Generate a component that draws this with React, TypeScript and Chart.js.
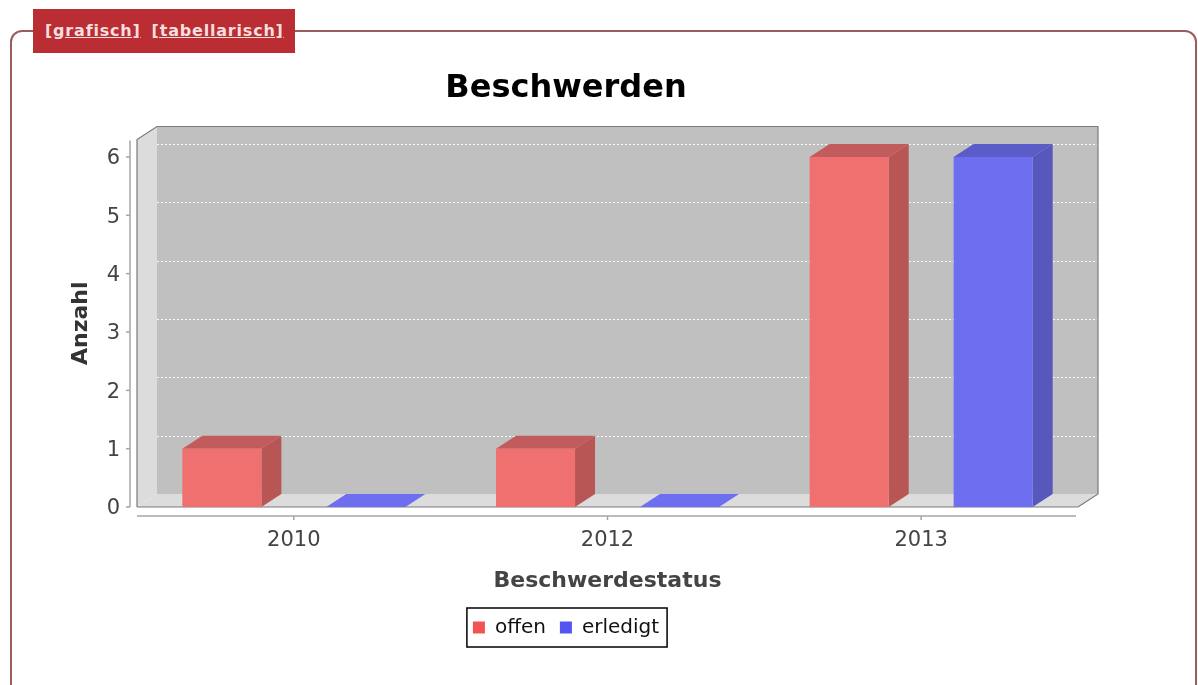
import React, { useEffect, useRef } from "react";
import { Chart, registerables } from "chart.js";

Chart.register(...registerables);

const categories = ["2010", "2012", "2013"];
const seriesNames = ["offen", "erledigt"];
const offenValues = [1, 1, 6];
const erledigtValues = [0, 0, 6];
const yTickValues = [0, 1, 2, 3, 4, 5, 6];

const FONT = "'DejaVu Sans', sans-serif";
const DX = 20;
const DY = 13;

const frontColors = ["#f07070", "#6e6ef0"];
const sideColors = ["#b85656", "#5858bc"];
const topColors = ["#c25c5c", "#5c5cc8"];
const legendColors = ["#f25454", "#5454f2"];

const threeD = {
  id: "threeD",
  beforeDatasetsDraw(chart: any) {
    const { ctx, chartArea: a, scales } = chart;
    const ys = scales.y;
    ctx.save();
    // back wall
    ctx.fillStyle = "#c0c0c0";
    ctx.fillRect(a.left + DX, a.top - DY, a.right - a.left, a.bottom - a.top);
    // left wall
    ctx.fillStyle = "#dcdcdc";
    ctx.beginPath();
    ctx.moveTo(a.left, a.top);
    ctx.lineTo(a.left + DX, a.top - DY);
    ctx.lineTo(a.left + DX, a.bottom - DY);
    ctx.lineTo(a.left, a.bottom);
    ctx.closePath();
    ctx.fill();
    // floor
    ctx.beginPath();
    ctx.moveTo(a.left, a.bottom);
    ctx.lineTo(a.left + DX, a.bottom - DY);
    ctx.lineTo(a.right + DX, a.bottom - DY);
    ctx.lineTo(a.right, a.bottom);
    ctx.closePath();
    ctx.fill();
    // gridlines on back wall
    ctx.strokeStyle = "rgba(255,255,255,0.9)";
    ctx.lineWidth = 1;
    ctx.setLineDash([2, 2]);
    yTickValues.forEach((v) => {
      if (v === 0) return;
      const py = Math.round(ys.getPixelForValue(v) - DY) + 0.5;
      ctx.beginPath();
      ctx.moveTo(a.left + DX, py);
      ctx.lineTo(a.right + DX, py);
      ctx.stroke();
    });
    ctx.setLineDash([]);
    // outline
    ctx.strokeStyle = "#7a7a7a";
    ctx.lineWidth = 1.2;
    ctx.beginPath();
    ctx.moveTo(a.left, a.bottom);
    ctx.lineTo(a.left, a.top);
    ctx.lineTo(a.left + DX, a.top - DY);
    ctx.lineTo(a.right + DX, a.top - DY);
    ctx.lineTo(a.right + DX, a.bottom - DY);
    ctx.lineTo(a.right, a.bottom);
    ctx.lineTo(a.left, a.bottom);
    ctx.stroke();
    // bar sides and tops
    chart.data.datasets.forEach((_ds: any, di: number) => {
      const meta = chart.getDatasetMeta(di);
      meta.data.forEach((el: any) => {
        const p = el.getProps(["x", "y", "base", "width"], true);
        const l = p.x - p.width / 2;
        const r = p.x + p.width / 2;
        const top = Math.min(p.y, p.base);
        const base = Math.max(p.y, p.base);
        const isZero = Math.abs(base - top) < 0.5;
        if (!isZero) {
          ctx.fillStyle = sideColors[di];
          ctx.beginPath();
          ctx.moveTo(r, top);
          ctx.lineTo(r + DX, top - DY);
          ctx.lineTo(r + DX, base - DY);
          ctx.lineTo(r, base);
          ctx.closePath();
          ctx.fill();
        }
        ctx.fillStyle = isZero ? frontColors[di] : topColors[di];
        ctx.beginPath();
        ctx.moveTo(l, top);
        ctx.lineTo(l + DX, top - DY);
        ctx.lineTo(r + DX, top - DY);
        ctx.lineTo(r, top);
        ctx.closePath();
        ctx.fill();
      });
    });
    ctx.restore();
  },
  afterDraw(chart: any) {
    const { ctx, chartArea: a, scales } = chart;
    const ys = scales.y;
    const xs = scales.x;
    ctx.save();
    ctx.strokeStyle = "#a4a4a4";
    ctx.lineWidth = 1.5;
    // y axis line
    ctx.beginPath();
    ctx.moveTo(130, a.top + 1);
    ctx.lineTo(130, a.bottom);
    ctx.stroke();
    yTickValues.forEach((v) => {
      const py = ys.getPixelForValue(v);
      ctx.beginPath();
      ctx.moveTo(126, py);
      ctx.lineTo(130, py);
      ctx.stroke();
    });
    // x axis line
    ctx.beginPath();
    ctx.moveTo(a.left, 516);
    ctx.lineTo(a.right - 2, 516);
    ctx.stroke();
    categories.forEach((_c, i) => {
      const px = xs.getPixelForValue(i);
      ctx.beginPath();
      ctx.moveTo(px, 516);
      ctx.lineTo(px, 520);
      ctx.stroke();
    });
    // legend frame
    const lg = chart.legend;
    if (lg && lg.legendHitBoxes && lg.legendHitBoxes.length) {
      const hb = lg.legendHitBoxes;
      const minL = Math.min(...hb.map((h: any) => h.left));
      const maxR = Math.max(...hb.map((h: any) => h.left + h.width));
      const cy = hb[0].top + hb[0].height / 2;
      ctx.strokeStyle = "#000";
      ctx.lineWidth = 1.5;
      ctx.strokeRect(minL - 6, cy - 19.5, maxR - minL + 14, 39);
    }
    ctx.restore();
  },
};

export default function App() {
  const ref = useRef<HTMLCanvasElement>(null);
  useEffect(() => {
    const canvas = ref.current;
    if (!canvas) return;
    const chart = new Chart(canvas, {
      type: "bar",
      data: {
        labels: categories,
        datasets: [
          {
            label: seriesNames[0],
            data: offenValues,
            backgroundColor: frontColors[0],
            borderWidth: 0,
            barPercentage: 0.549,
            categoryPercentage: 0.918,
          },
          {
            label: seriesNames[1],
            data: erledigtValues,
            backgroundColor: frontColors[1],
            borderWidth: 0,
            barPercentage: 0.549,
            categoryPercentage: 0.918,
          },
        ],
      },
      options: {
        responsive: false,
        animation: false,
        layout: { padding: { left: 54, right: 120, top: 40, bottom: 37.5 } },
        plugins: {
          tooltip: { enabled: false },
          title: {
            display: true,
            text: "Beschwerden",
            color: "#000",
            font: { family: FONT, size: 32, weight: "bold" },
            padding: { top: 29.8, bottom: 31.3 },
          },
          legend: {
            position: "bottom",
            labels: {
              color: "#111",
              font: { family: FONT, size: 20 },
              boxWidth: 12,
              boxHeight: 12,
              padding: 14,
              generateLabels: (c: any) => {
                const items = (Chart.defaults.plugins.legend.labels as any).generateLabels(c);
                items.forEach((it: any, i: number) => {
                  it.fillStyle = legendColors[i];
                  it.strokeStyle = legendColors[i];
                  it.lineWidth = 0;
                });
                return items;
              },
            },
          },
        },
        scales: {
          x: {
            afterFit: (s: any) => {
              s.height = 96.5;
            },
            ticks: { color: "#444", font: { family: FONT, size: 21 }, padding: 21 },
            grid: { display: false, drawTicks: false },
            border: { display: false },
            title: {
              display: true,
              text: "Beschwerdestatus",
              color: "#444",
              font: { family: FONT, size: 22, weight: "bold" },
              padding: { top: 0, bottom: 9.3 },
            },
          },
          y: {
            min: 0,
            max: 6.3,
            afterFit: (s: any) => {
              s.width = 83;
            },
            afterBuildTicks: (s: any) => {
              s.ticks = yTickValues.map((v) => ({ value: v }));
            },
            ticks: { color: "#444", font: { family: FONT, size: 21 }, padding: 17, labelOffset: 2 },
            grid: { display: false, drawTicks: false },
            border: { display: false },
            title: {
              display: true,
              text: "Anzahl",
              color: "#333",
              font: { family: FONT, size: 22, weight: "bold" },
              padding: { top: 14, bottom: 0 },
            },
          },
        },
      },
      plugins: [threeD],
    } as any);
    return () => chart.destroy();
  }, []);

  const linkStyle: React.CSSProperties = {
    color: "#f7dede",
    textDecoration: "underline",
    fontFamily: FONT,
    fontWeight: "bold",
    fontSize: 16,
    letterSpacing: 0.8,
  };

  return (
    <div
      style={{
        position: "absolute",
        left: 0,
        top: 0,
        width: 1198,
        height: 685,
        overflow: "hidden",
        background: "#fff",
      }}
    >
      <div
        style={{
          position: "absolute",
          left: 10,
          top: 30,
          width: 1187,
          height: 720,
          boxSizing: "border-box",
          border: "2px solid #9a5c5c",
          borderRadius: 12,
        }}
      />
      <div
        style={{
          position: "absolute",
          left: 33,
          top: 9,
          width: 262,
          height: 44,
          background: "#b92d33",
          display: "flex",
          alignItems: "center",
          boxSizing: "border-box",
          paddingLeft: 12,
          paddingBottom: 2,
          whiteSpace: "nowrap",
        }}
      >
        <span style={linkStyle}>[grafisch]</span>
        <span style={{ ...linkStyle, marginLeft: 11 }}>[tabellarisch]</span>
      </div>
      <canvas
        ref={ref}
        width={1198}
        height={685}
        style={{ position: "absolute", left: 0, top: 0, width: 1198, height: 685 }}
      />
    </div>
  );
}
